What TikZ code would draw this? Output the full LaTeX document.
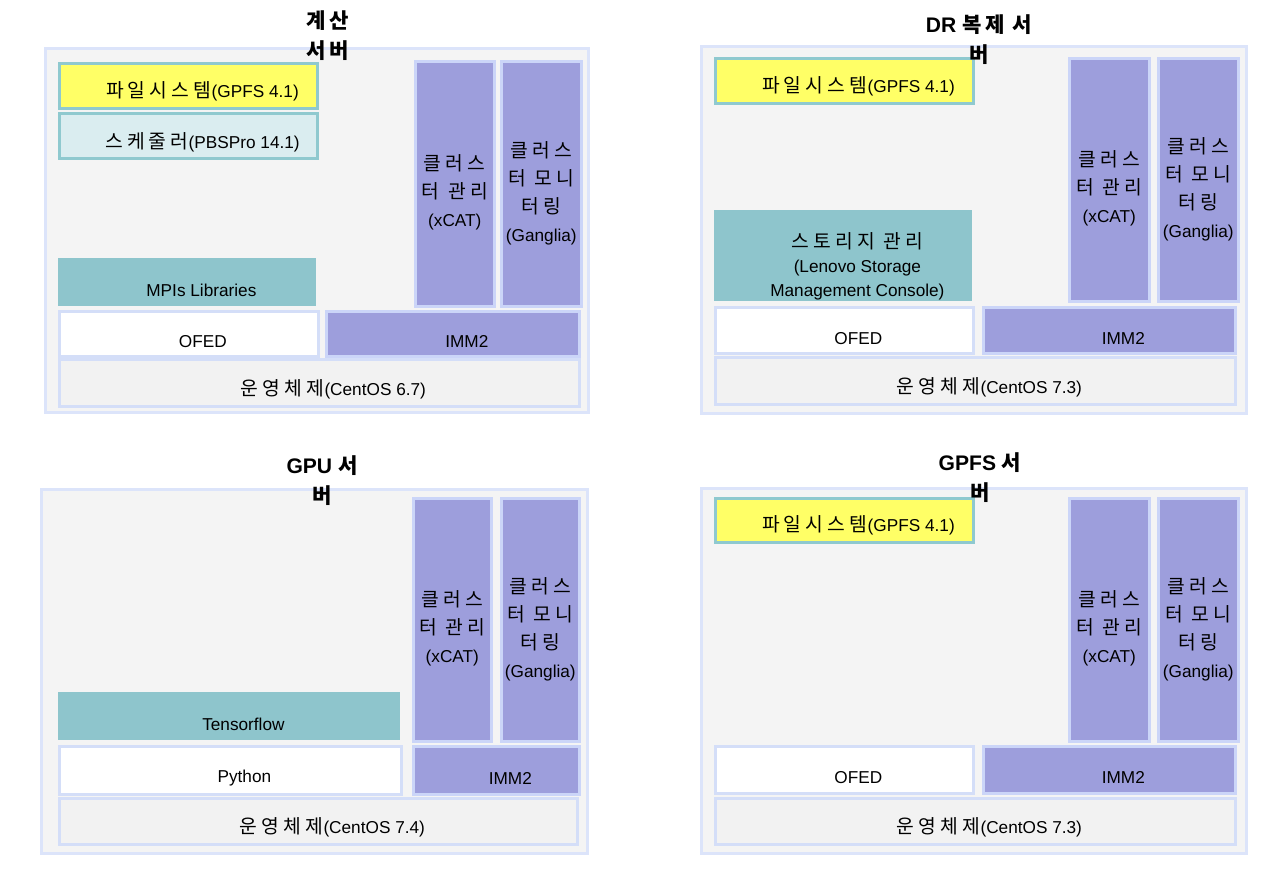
\documentclass[tikz,border=0pt]{standalone}
\usepackage{fontspec}
\setmainfont{Liberation Sans}
\newfontfamily\kr{Noto Sans CJK KR}[Scale=1.12, LetterSpace=22]
\newfontfamily\krb{Noto Sans CJK KR Bold}[LetterSpace=16]
\newcommand{\ind}{\hspace*{16pt}}
\definecolor{panelfill}{HTML}{F4F4F4}
\definecolor{panelline}{HTML}{DCE4FA}
\definecolor{fsfill}{HTML}{FFFF66}
\definecolor{tealline}{HTML}{8FC9CF}
\definecolor{schedfill}{HTML}{DAEDF0}
\definecolor{tealfill}{HTML}{8EC5CC}
\definecolor{purplefill}{HTML}{9D9EDC}
\definecolor{purpleline}{HTML}{CBD5F8}
\definecolor{boxline}{HTML}{D4DEF8}
\definecolor{osfill}{HTML}{F2F2F2}
\tikzset{
  sz/.style 2 args={minimum width=#1*0.02cm, minimum height=#2*0.02cm},
  blk/.style={rectangle, anchor=north west, inner sep=0pt, align=center,
    text height=16pt, font=\fontsize{9.8}{13.5}\selectfont},
  shr/.style={execute at begin node=\ind},
  panel/.style={blk, draw=panelline, fill=panelfill, line width=1.6pt},
  fsbox/.style={blk, shr, draw=tealline, fill=fsfill, line width=1.5pt, text height=15pt},
  schedbox/.style={blk, shr, draw=tealline, fill=schedfill, line width=1.5pt},
  tealbox/.style={blk, fill=tealfill},
  colbox/.style={blk, draw=purpleline, fill=purplefill, line width=1.5pt,
    font=\fontsize{9.8}{16}\selectfont},
  whitebox/.style={blk, shr, draw=boxline, fill=white, line width=1.5pt},
  osbox/.style={blk, shr, draw=boxline, fill=osfill, line width=1.5pt},
  title/.style={align=center, inner sep=0pt, font=\fontsize{12}{17}\selectfont\bfseries}
}
\begin{document}
\begin{tikzpicture}[x=0.02cm, y=-0.02cm]
  \useasboundingbox (0,0) rectangle (1284,878);
  % first panel
  \node[panel, sz={543}{364}] (P1) at (44,47) {};
  \node[fsbox, sz={258}{45}] (P1fs) at (58,62) {{\kr 파일시스템}(GPFS 4.1)};
  \node[schedbox, sz={258}{45}] (P1sched) at (58,112) {{\kr 스케줄러}(PBSPro 14.1)};
  \node[tealbox, shr, sz={258}{48}] (P1mpi) at (58,258) {MPIs Libraries};
  \node[whitebox, sz={259}{45}] (P1ofed) at (58,310) {OFED};
  \node[colbox, shr, sz={253}{45}] (P1imm) at (325,310) {IMM2};
  \node[colbox, sz={79}{245}, text height=51pt] (P1xcat) at (414,60)
    {{\kr 클러스}\\{\kr 터 관리}\\(xCAT)};
  \node[colbox, sz={80}{245}, text height=68pt] (P1gang) at (500,60)
    {{\kr 클러스}\\{\kr 터 모니}\\{\kr 터링}\\(Ganglia)};
  \node[osbox, sz={520}{47}] (P1os) at (58,358) {{\kr 운영체제}(CentOS 6.7)};
  % second panel
  \node[panel, sz={545}{367}] (P2) at (700,45) {};
  \node[fsbox, sz={258}{45}] (P2fs) at (714,57) {{\kr 파일시스템}(GPFS 4.1)};
  \node[colbox, sz={80}{243}, text height=51pt] (P2xcat) at (1068,57)
    {{\kr 클러스}\\{\kr 터 관리}\\(xCAT)};
  \node[colbox, sz={80}{243}, text height=68pt] (P2gang) at (1157,57)
    {{\kr 클러스}\\{\kr 터 모니}\\{\kr 터링}\\(Ganglia)};
  \node[tealbox, sz={258}{91}, text height=48pt] (P2stor) at (714,210)
    {\ind{\kr 스토리지 관리}\\\ind(Lenovo Storage\\\ind Management Console)};
  \node[whitebox, sz={258}{46}] (P2ofed) at (714,306) {OFED};
  \node[colbox, shr, sz={252}{46}] (P2imm) at (982,306) {IMM2};
  \node[osbox, sz={520}{47}] (P2os) at (714,356) {{\kr 운영체제}(CentOS 7.3)};
  % third panel
  \node[panel, sz={546}{364}] (P3) at (40,488) {};
  \node[colbox, sz={78}{243}, text height=51pt] (P3xcat) at (412,497)
    {{\kr 클러스}\\{\kr 터 관리}\\(xCAT)};
  \node[colbox, sz={78}{243}, text height=68pt] (P3gang) at (500,497)
    {{\kr 클러스}\\{\kr 터 모니}\\{\kr 터링}\\(Ganglia)};
  \node[tealbox, shr, sz={342}{48}] (P3tf) at (58,692) {Tensorflow};
  \node[whitebox, sz={342}{48}] (P3py) at (58,745) {Python};
  \node[colbox, shr, sz={166}{48}] (P3imm) at (412,745) {IMM2};
  \node[osbox, sz={518}{46}] (P3os) at (58,797) {{\kr 운영체제}(CentOS 7.4)};
  % fourth panel
  \node[panel, sz={545}{365}] (P4) at (700,487) {};
  \node[fsbox, sz={258}{44}] (P4fs) at (714,497) {{\kr 파일시스템}(GPFS 4.1)};
  \node[colbox, sz={80}{243}, text height=51pt] (P4xcat) at (1068,497)
    {{\kr 클러스}\\{\kr 터 관리}\\(xCAT)};
  \node[colbox, sz={80}{243}, text height=68pt] (P4gang) at (1157,497)
    {{\kr 클러스}\\{\kr 터 모니}\\{\kr 터링}\\(Ganglia)};
  \node[whitebox, sz={258}{47}] (P4ofed) at (714,745) {OFED};
  \node[colbox, shr, sz={252}{47}] (P4imm) at (982,745) {IMM2};
  \node[osbox, sz={520}{46}] (P4os) at (714,797) {{\kr 운영체제}(CentOS 7.3)};
  % titles
  \node[title] (T1) at (328,36) {{\krb 계산}\\{\krb 서버}};
  \node[title] (T2) at (979,40) {DR {\krb 복제 서}\\{\krb 버}};
  \node[title] (T3) at (322,481) {GPU {\krb 서}\\{\krb 버}};
  \node[title] (T4) at (980,478) {GPFS {\krb 서}\\{\krb 버}};
\end{tikzpicture}
\end{document}
